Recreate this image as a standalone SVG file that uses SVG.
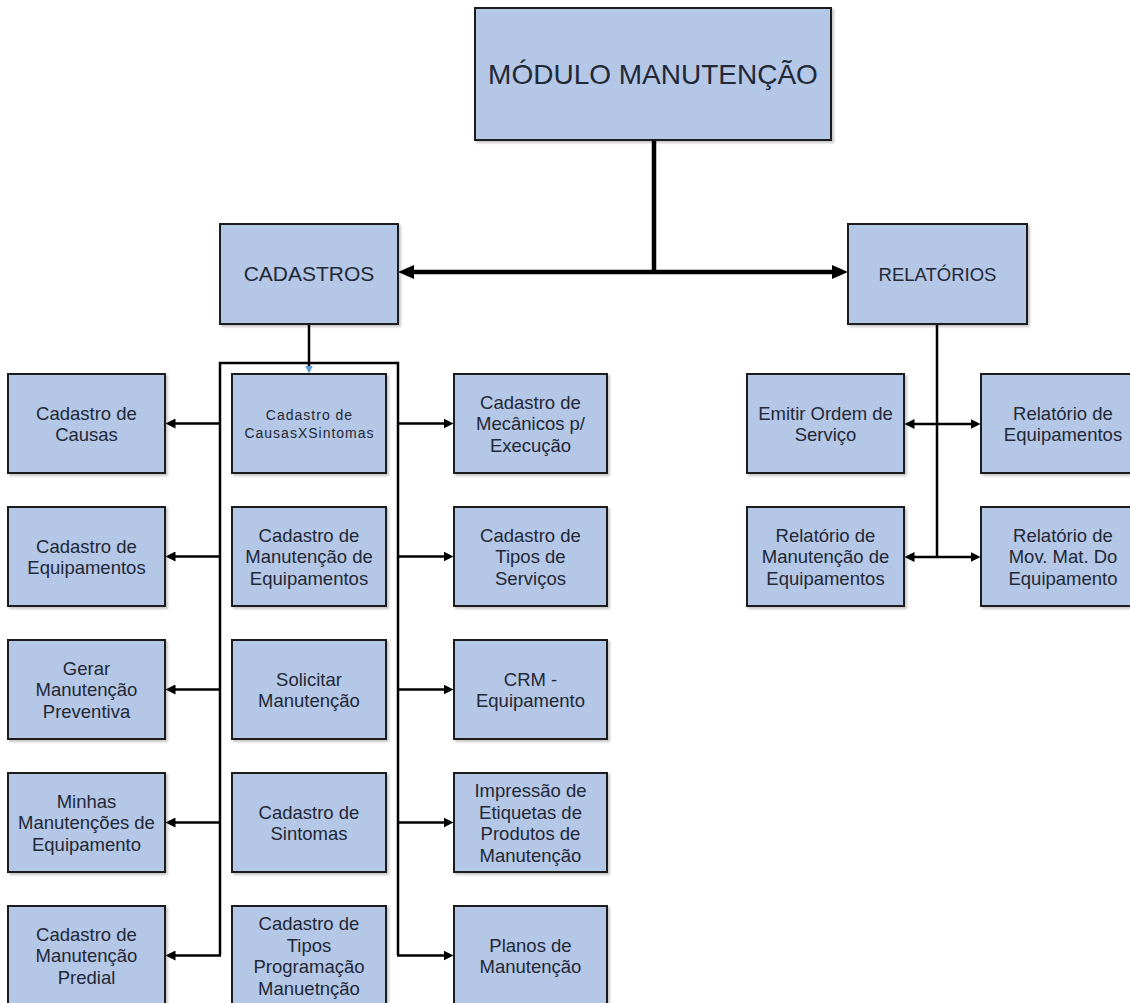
<svg xmlns="http://www.w3.org/2000/svg" width="1130" height="1003" viewBox="0 0 1130 1003">
  <style>
    .node rect { fill: #b4c7e7; stroke: #1c1c1c; stroke-width: 2; filter: url(#shadow); }
    .node text { font-family: "Liberation Sans", Arial, sans-serif; font-size: 18.5px; fill: #232836; text-anchor: middle; }
    .node text.title { font-size: 28px; }
    .node text.head { font-size: 21px; }
    .node text.small { font-size: 14px; letter-spacing: 1px; }
    .wire { fill: none; stroke: #000; stroke-width: 2.5; }
    .wire.thick { stroke-width: 4.5; }
  </style>
  <defs>
    <filter id="shadow" x="-5%" y="-5%" width="115%" height="115%">
      <feDropShadow dx="2" dy="2" stdDeviation="1" flood-color="#000" flood-opacity="0.22"/>
    </filter>
    <marker id="arr" viewBox="0 0 10 10" refX="0.5" refY="5" markerWidth="10" markerHeight="10" markerUnits="userSpaceOnUse" orient="auto-start-reverse">
      <path d="M0,0 L10,5 L0,10 z" fill="#000"/>
    </marker>
    <marker id="arr-big" viewBox="0 0 16 14" refX="1" refY="7" markerWidth="16" markerHeight="14" markerUnits="userSpaceOnUse" orient="auto-start-reverse">
      <path d="M0,0 L16,7 L0,14 z" fill="#000"/>
    </marker>
    <marker id="arr-blue" viewBox="0 0 8 8" refX="0.5" refY="4" markerWidth="8" markerHeight="8" markerUnits="userSpaceOnUse" orient="auto">
      <path d="M0,0 L8,4 L0,8 z" fill="#5b9bd5"/>
    </marker>
  </defs>

  <rect width="1130" height="1003" fill="#fff"/>

  <!-- connectors -->
  <g id="connectors">
    <path class="wire thick" d="M654,140 V272"/>
    <path class="wire thick" d="M413,272 H833" marker-start="url(#arr-big)" marker-end="url(#arr-big)"/>
    <path class="wire" d="M309,324 V366" marker-end="url(#arr-blue)"/>
    <path class="wire" d="M220,955 V363 H398 V955"/>
    <path class="wire" d="M220,423.5 H175" marker-end="url(#arr)"/>
    <path class="wire" d="M220,556.5 H175" marker-end="url(#arr)"/>
    <path class="wire" d="M220,689.5 H175" marker-end="url(#arr)"/>
    <path class="wire" d="M220,822.5 H175" marker-end="url(#arr)"/>
    <path class="wire" d="M221,955.5 H175" marker-end="url(#arr)"/>
    <path class="wire" d="M398,423.5 H444" marker-end="url(#arr)"/>
    <path class="wire" d="M398,556.5 H444" marker-end="url(#arr)"/>
    <path class="wire" d="M398,689.5 H444" marker-end="url(#arr)"/>
    <path class="wire" d="M398,822.5 H444" marker-end="url(#arr)"/>
    <path class="wire" d="M397,955.5 H444" marker-end="url(#arr)"/>
    <path class="wire" d="M937,324 V557"/>
    <path class="wire" d="M914,424 H971" marker-start="url(#arr)" marker-end="url(#arr)"/>
    <path class="wire" d="M914,557 H971" marker-start="url(#arr)" marker-end="url(#arr)"/>
  </g>

  <!-- top level -->
  <g id="modulo-manutencao" class="node">
    <rect x="475" y="8" width="356" height="132"/>
    <text class="title" x="653" y="84">MÓDULO MANUTENÇÃO</text>
  </g>
  <g id="cadastros" class="node">
    <rect x="220" y="224" width="178" height="100"/>
    <text class="head" x="309" y="281">CADASTROS</text>
  </g>
  <g id="relatorios" class="node">
    <rect x="848" y="224" width="179" height="100"/>
    <text x="937.5" y="280.5">RELATÓRIOS</text>
  </g>

  <!-- cadastros: left column -->
  <g id="cadastro-causas" class="node">
    <rect x="8" y="374" width="157" height="99"/>
    <text><tspan x="86.5" y="419.5">Cadastro de</tspan><tspan x="86.5" y="441">Causas</tspan></text>
  </g>
  <g id="cadastro-equipamentos" class="node">
    <rect x="8" y="507" width="157" height="99"/>
    <text><tspan x="86.5" y="552.5">Cadastro de</tspan><tspan x="86.5" y="574">Equipamentos</tspan></text>
  </g>
  <g id="gerar-manutencao-preventiva" class="node">
    <rect x="8" y="640" width="157" height="99"/>
    <text><tspan x="86.5" y="674.5">Gerar</tspan><tspan x="86.5" y="696">Manutenção</tspan><tspan x="86.5" y="717.5">Preventiva</tspan></text>
  </g>
  <g id="minhas-manutencoes" class="node">
    <rect x="8" y="773" width="157" height="99"/>
    <text><tspan x="86.5" y="807.5">Minhas</tspan><tspan x="86.5" y="829">Manutenções de</tspan><tspan x="86.5" y="850.5">Equipamento</tspan></text>
  </g>
  <g id="cadastro-manutencao-predial" class="node">
    <rect x="8" y="906" width="157" height="99"/>
    <text><tspan x="86.5" y="940.5">Cadastro de</tspan><tspan x="86.5" y="962">Manutenção</tspan><tspan x="86.5" y="983.5">Predial</tspan></text>
  </g>

  <!-- cadastros: middle column -->
  <g id="cadastro-causas-sintomas" class="node">
    <rect x="232" y="374" width="154" height="99"/>
    <text class="small"><tspan x="309.5" y="420">Cadastro de</tspan><tspan x="309.5" y="438">CausasXSintomas</tspan></text>
  </g>
  <g id="cadastro-manutencao-equipamentos" class="node">
    <rect x="232" y="507" width="154" height="99"/>
    <text><tspan x="309" y="541.5">Cadastro de</tspan><tspan x="309" y="563">Manutenção de</tspan><tspan x="309" y="584.5">Equipamentos</tspan></text>
  </g>
  <g id="solicitar-manutencao" class="node">
    <rect x="232" y="640" width="154" height="99"/>
    <text><tspan x="309" y="685.5">Solicitar</tspan><tspan x="309" y="707">Manutenção</tspan></text>
  </g>
  <g id="cadastro-sintomas" class="node">
    <rect x="232" y="773" width="154" height="99"/>
    <text><tspan x="309" y="818.5">Cadastro de</tspan><tspan x="309" y="840">Sintomas</tspan></text>
  </g>
  <g id="cadastro-tipos-programacao" class="node">
    <rect x="232" y="906" width="154" height="99"/>
    <text><tspan x="309" y="930">Cadastro de</tspan><tspan x="309" y="951.5">Tipos</tspan><tspan x="309" y="973">Programação</tspan><tspan x="309" y="994.5">Manuetnção</tspan></text>
  </g>

  <!-- cadastros: right column -->
  <g id="cadastro-mecanicos" class="node">
    <rect x="454" y="374" width="153" height="99"/>
    <text><tspan x="530.5" y="408.5">Cadastro de</tspan><tspan x="530.5" y="430">Mecânicos p/</tspan><tspan x="530.5" y="451.5">Execução</tspan></text>
  </g>
  <g id="cadastro-tipos-servicos" class="node">
    <rect x="454" y="507" width="153" height="99"/>
    <text><tspan x="530.5" y="541.5">Cadastro de</tspan><tspan x="530.5" y="563">Tipos de</tspan><tspan x="530.5" y="584.5">Serviços</tspan></text>
  </g>
  <g id="crm-equipamento" class="node">
    <rect x="454" y="640" width="153" height="99"/>
    <text><tspan x="530.5" y="685.5">CRM -</tspan><tspan x="530.5" y="707">Equipamento</tspan></text>
  </g>
  <g id="impressao-etiquetas" class="node">
    <rect x="454" y="773" width="153" height="99"/>
    <text><tspan x="530.5" y="797">Impressão de</tspan><tspan x="530.5" y="818.5">Etiquetas de</tspan><tspan x="530.5" y="840">Produtos de</tspan><tspan x="530.5" y="861.5">Manutenção</tspan></text>
  </g>
  <g id="planos-manutencao" class="node">
    <rect x="454" y="906" width="153" height="99"/>
    <text><tspan x="530.5" y="951.5">Planos de</tspan><tspan x="530.5" y="973">Manutenção</tspan></text>
  </g>

  <!-- relatórios -->
  <g id="emitir-ordem-servico" class="node">
    <rect x="747" y="374" width="157" height="99"/>
    <text><tspan x="825.5" y="419.5">Emitir Ordem de</tspan><tspan x="825.5" y="441">Serviço</tspan></text>
  </g>
  <g id="relatorio-equipamentos" class="node">
    <rect x="981" y="374" width="164" height="99"/>
    <text><tspan x="1063" y="419.5">Relatório de</tspan><tspan x="1063" y="441">Equipamentos</tspan></text>
  </g>
  <g id="relatorio-manutencao-equipamentos" class="node">
    <rect x="747" y="507" width="157" height="99"/>
    <text><tspan x="825.5" y="541.5">Relatório de</tspan><tspan x="825.5" y="563">Manutenção de</tspan><tspan x="825.5" y="584.5">Equipamentos</tspan></text>
  </g>
  <g id="relatorio-mov-mat" class="node">
    <rect x="981" y="507" width="164" height="99"/>
    <text><tspan x="1063" y="541.5">Relatório de</tspan><tspan x="1063" y="563">Mov. Mat. Do</tspan><tspan x="1063" y="584.5">Equipamento</tspan></text>
  </g>
</svg>
